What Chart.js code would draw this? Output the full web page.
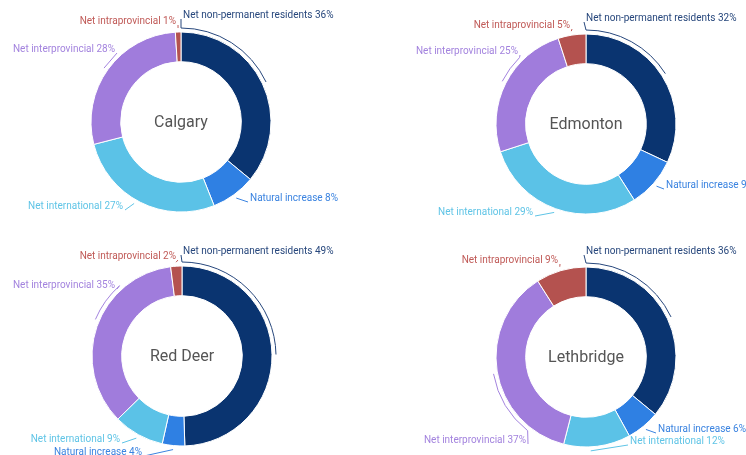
<!DOCTYPE html>
<html>
<head>
<meta charset="utf-8">
<script src="https://cdn.jsdelivr.net/npm/chart.js@4/dist/chart.umd.min.js"></script>
<style>
  html, body { margin: 0; padding: 0; background: #fff; }
  #wrap { position: relative; width: 746px; height: 455px; overflow: hidden; }
  canvas { position: absolute; }
</style>
</head>
<body>
<div id="wrap">
  <canvas id="c0" width="373" height="228" style="left:0;top:0"></canvas>
  <canvas id="c1" width="373" height="228" style="left:373px;top:0"></canvas>
  <canvas id="c2" width="373" height="227" style="left:0;top:228px"></canvas>
  <canvas id="c3" width="373" height="227" style="left:373px;top:228px"></canvas>
</div>
<script>
// components of population growth, share of total (%)
const categories = ['Net non-permanent residents', 'Natural increase', 'Net international', 'Net interprovincial', 'Net intraprovincial'];
const cities = ['Calgary', 'Edmonton', 'Red Deer', 'Lethbridge'];
const calgary = [36, 8, 27, 28, 1];
const edmonton = [32, 9, 29, 25, 5];
const redDeer = [49, 4, 9, 35, 2];
const lethbridge = [36, 6, 12, 37, 9];
const cityValues = [calgary, edmonton, redDeer, lethbridge];

const sliceColors = ['#0a3470', '#2f80e3', '#5bc2e7', '#a07cdc', '#b4524f'];
const textColors = ['#27477c', '#3a83e0', '#5fc4e6', '#a383de', '#c05a57'];

// label placement per chart: offset from centre, alignment, where the leader meets the ring
// f = fraction along the slice, br = bracket range along the slice
const labelLayout = [
    [
        { dx: 2, dy: -107, align: 'left', f: 0, br: [0, 0.5] },
        { dx: 69, dy: 76, align: 'left', f: 0.5 },
        { dx: -58, dy: 84, align: 'right', f: 0.53 },
        { dx: -66, dy: -73, align: 'right', f: 0.49 },
        { dx: -5, dy: -101, align: 'right', f: 0.5 }
    ],
    [
        { dx: 0, dy: -106, align: 'left', f: 0, br: [0, 0.5] },
        { dx: 80, dy: 61, align: 'left', f: 0.5 },
        { dx: -53, dy: 88, align: 'right', f: 0.5 },
        { dx: -68, dy: -73, align: 'right', f: 0.7, br: [0.5, 0.7] },
        { dx: -16, dy: -99, align: 'right', f: 0.5 }
    ],
    [
        { dx: 1, dy: -105, align: 'left', f: 0, br: [0, 0.5] },
        { dx: -40, dy: 96, align: 'right', f: 0.5 },
        { dx: -62, dy: 83, align: 'right', f: 0.5 },
        { dx: -67, dy: -71, align: 'right', f: 0.73, br: [0.53, 0.73] },
        { dx: -6, dy: -100, align: 'right', f: 0.5 }
    ],
    [
        { dx: 0, dy: -106, align: 'left', f: 0, br: [0, 0.5] },
        { dx: 72, dy: 72, align: 'left', f: 0.5 },
        { dx: 44, dy: 84, align: 'left', f: 0.6 },
        { dx: -60, dy: 83, align: 'right', f: 0.18, br: [0.18, 0.49] },
        { dx: -28, dy: -97, align: 'right', f: 0.5 }
    ]
];

const paddings = [
    { left: 0, right: 11, top: 16, bottom: 0 },
    { left: 53, right: 0, top: 20, bottom: 0 },
    { left: 0, right: 9, top: 29, bottom: 0 },
    { left: 53, right: 0, top: 31, bottom: 0 }
];

const FONT = 'Roboto, "Noto Sans", sans-serif';

const calloutPlugin = {
    id: 'callouts',
    afterDatasetsDraw(chart) {
        const ctx = chart.ctx;
        const idx = chart.options.plugins.callouts.index;
        const layout = labelLayout[idx];
        const values = cityValues[idx];
        const arcs = chart.getDatasetMeta(0).data;
        ctx.save();

        // city name in the hole
        const c = arcs[0];
        ctx.fillStyle = '#555';
        ctx.font = '16px ' + FONT;
        ctx.textAlign = 'center';
        ctx.textBaseline = 'middle';
        ctx.fillText(cities[idx], c.x, c.y + 1);

        arcs.forEach((arc, i) => {
            const L = layout[i];
            const R = arc.outerRadius + 4;
            const span = arc.endAngle - arc.startAngle;
            const a = arc.startAngle + span * L.f;
            const px = arc.x + R * Math.cos(a);
            const py = arc.y + R * Math.sin(a);
            const lx = arc.x + L.dx;
            const ly = arc.y + L.dy;
            ctx.strokeStyle = textColors[i];
            ctx.lineWidth = 1;

            if (L.br) {
                ctx.beginPath();
                ctx.arc(arc.x, arc.y, R, arc.startAngle + span * L.br[0], arc.startAngle + span * L.br[1]);
                ctx.stroke();
            }
            const ax = L.align === 'left' ? lx - 2 : lx + 2;
            ctx.beginPath();
            ctx.moveTo(ax, ly + 4);
            ctx.lineTo(px, py);
            ctx.stroke();

            ctx.fillStyle = textColors[i];
            ctx.font = '10px ' + FONT;
            ctx.textAlign = L.align;
            ctx.textBaseline = 'middle';
            ctx.fillText(categories[i] + ' ' + values[i] + '%', lx, ly);
        });
        ctx.restore();
    }
};

cityValues.forEach((vals, i) => {
    new Chart(document.getElementById('c' + i), {
        type: 'doughnut',
        data: {
            labels: categories,
            datasets: [{
                data: vals,
                backgroundColor: sliceColors,
                borderColor: '#ffffff',
                borderWidth: 1,
                radius: 90,
                cutout: '67%'
            }]
        },
        options: {
            responsive: false,
            animation: false,
            layout: { padding: paddings[i] },
            plugins: {
                legend: { display: false },
                tooltip: { enabled: false },
                callouts: { index: i }
            }
        },
        plugins: [calloutPlugin]
    });
});
</script>
</body>
</html>
